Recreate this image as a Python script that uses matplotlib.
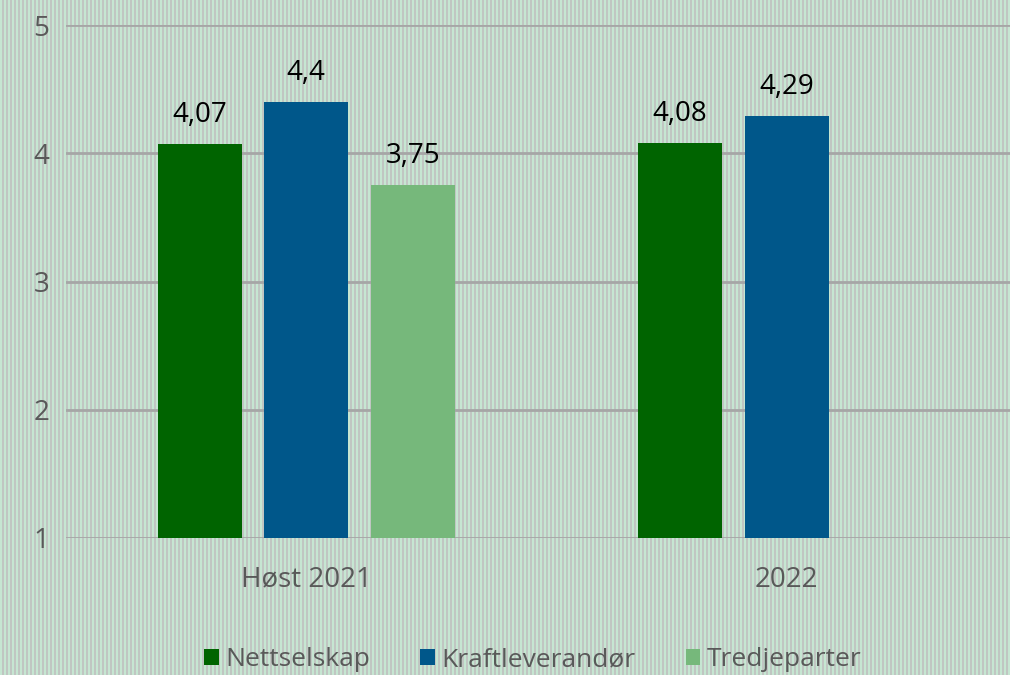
import numpy as np
import matplotlib
matplotlib.use("Agg")
import matplotlib.pyplot as plt
from matplotlib.patches import Patch

categories = ["Høst 2021", "2022"]
series_names = ["Nettselskap", "Kraftleverandør", "Tredjeparter"]
nettselskap = [4.07, 4.08]
kraftleverandor = [4.4, 4.29]
tredjeparter = [3.75, np.nan]
colors = ["#006400", "#00578a", "#76b87b"]

plt.rcParams['font.family'] = ['Open Sans', 'DejaVu Sans']

W, H = 1010, 675
fig = plt.figure(figsize=(W / 100, H / 100), dpi=100)

# striped background
cols = np.arange(W)
green = np.array([198, 230, 210]) / 255.0
gray = np.array([192, 198, 194]) / 255.0
row = np.where((cols % 4) < 2, 0, 1)
bg = np.where(row[:, None] == 0, green, gray)
img = np.broadcast_to(bg[None, :, :], (H, W, 3)).copy()
fig.figimage(img, xo=0, yo=0, zorder=-10)

ax_left = 66 / W
ax_right = 1027 / W
ax_top = 1 - 25 / H
ax_bottom = 1 - 538 / H
ax = fig.add_axes([ax_left, ax_bottom, ax_right - ax_left, ax_top - ax_bottom])
ax.patch.set_alpha(0)

x = np.arange(len(categories))
width = 0.175
offset = 0.222
all_series = [nettselskap, kraftleverandor, tredjeparter]
for i, (name, vals) in enumerate(zip(series_names, all_series)):
    xs = x + (i - 1) * offset
    vals = np.array(vals, dtype=float)
    ax.bar(xs, vals - 1, bottom=1, width=width, color=colors[i], label=name, zorder=3)
    for xi, v in zip(xs, vals):
        if not np.isnan(v):
            ax.text(xi, v + 0.12, f"{v:g}".replace(".", ","), ha="center", va="bottom",
                    fontsize=20, color="black", zorder=4)

ax.set_xlim(-0.5, 1.5)
ax.set_ylim(1, 5)
ax.set_yticks([1, 2, 3, 4, 5])
ax.yaxis.grid(True, color="#a6a6a6", linewidth=2, zorder=0)
ax.set_axisbelow(True)
for s in ax.spines.values():
    s.set_visible(False)
ax.tick_params(axis="both", length=0, labelsize=20, colors="#595959")
ax.tick_params(axis="y", pad=12)
ax.tick_params(axis="x", pad=20)
ax.set_xticks(x)
ax.set_xticklabels(categories)

handles = [Patch(facecolor=c, edgecolor="none") for c in colors]
fig.legend(handles, series_names, loc="center", bbox_to_anchor=(533 / W, 1 - 660 / H),
           ncol=3, frameon=False, fontsize=19, labelcolor="#595959",
           handlelength=0.55, handleheight=0.55, handletextpad=0.25, columnspacing=1.9)

fig.savefig("out.png", dpi=100)
